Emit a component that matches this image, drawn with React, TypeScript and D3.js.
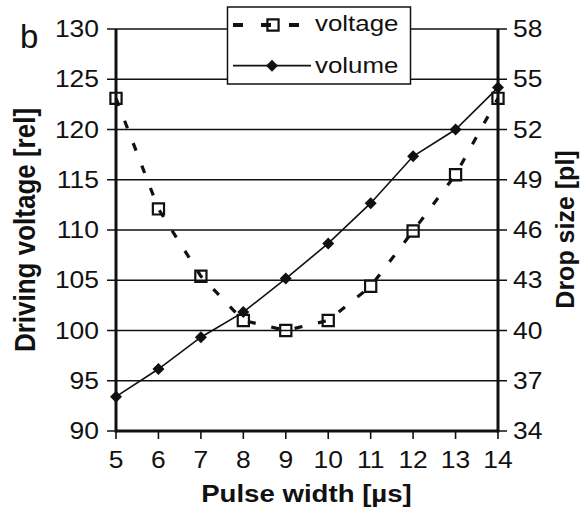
import React from "react";
import * as d3 from "d3";

// Pulse width in microseconds
const pulseWidth = [5, 6, 7, 8, 9, 10, 11, 12, 13, 14];
// Driving voltage (relative units), left axis
const voltage = [123.1, 112.1, 105.4, 101.0, 100.0, 101.0, 104.4, 109.9, 115.5, 123.1];
// Drop volume (pl), right axis
const volume = [36.05, 37.7, 39.6, 41.1, 43.1, 45.2, 47.6, 50.4, 52.0, 54.5];

const leftTicks = [90, 95, 100, 105, 110, 115, 120, 125, 130];
const rightTicks = [34, 37, 40, 43, 46, 49, 52, 55, 58];
const xTicks = [5, 6, 7, 8, 9, 10, 11, 12, 13, 14];

const W = 581;
const H = 511;
const FONT = "'Liberation Sans', Arial, Helvetica, sans-serif";
const SX = 1.15; // horizontal glyph stretch

export default function App() {
  const x = d3.scaleLinear().domain([5, 14]).range([116, 498]);
  const yL = d3.scaleLinear().domain([90, 130]).range([431, 29]);
  const yR = d3.scaleLinear().domain([34, 58]).range([431, 29]);

  const voltageLine = d3
    .line<number>()
    .x((_, i) => x(pulseWidth[i]))
    .y((v) => yL(v));
  const volumeLine = d3
    .line<number>()
    .x((_, i) => x(pulseWidth[i]))
    .y((v) => yR(v));

  const squarePath = d3.symbol(d3.symbolSquare, 125)() as string;
  const diamondPath = d3.symbol(d3.symbolSquare, 72)() as string;

  const [x0, x1] = x.range();
  const [yB, yT] = yL.range();

  const txt = (
    key: string | number,
    tx: number,
    ty: number,
    label: string,
    size: number,
    anchor: "start" | "middle" | "end",
    bold = false
  ) => (
    <text
      key={key}
      transform={`translate(${tx},${ty}) scale(${SX},1)`}
      textAnchor={anchor}
      fontFamily={FONT}
      fontSize={size}
      fontWeight={bold ? "bold" : "normal"}
      fill="#111"
    >
      {label}
    </text>
  );

  return (
    <svg
      width={W}
      height={H}
      style={{ position: "absolute", left: 0, top: 0, background: "#fff" }}
    >
      <rect width={W} height={H} fill="#fff" />

      {/* horizontal gridlines with tick stubs on both sides */}
      {leftTicks.map((t) => (
        <line
          key={"g" + t}
          x1={x0 - 9}
          x2={x1 + 9}
          y1={yL(t)}
          y2={yL(t)}
          stroke="#111"
          strokeWidth={1.6}
        />
      ))}

      {/* x tick marks */}
      {xTicks.map((t) => (
        <line
          key={"xt" + t}
          x1={x(t)}
          x2={x(t)}
          y1={yB}
          y2={yB + 8}
          stroke="#111"
          strokeWidth={1.6}
        />
      ))}

      {/* axis frame: left, right, bottom */}
      <line x1={x0} x2={x0} y1={yT} y2={yB + 1.5} stroke="#111" strokeWidth={3} />
      <line x1={x1} x2={x1} y1={yT} y2={yB + 1.5} stroke="#111" strokeWidth={3} />
      <line x1={x0} x2={x1} y1={yB} y2={yB} stroke="#111" strokeWidth={3} />

      {/* volume series */}
      <path d={volumeLine(volume) as string} fill="none" stroke="#111" strokeWidth={1.6} />
      {/* voltage series */}
      <path
        d={voltageLine(voltage) as string}
        fill="none"
        stroke="#111"
        strokeWidth={3.2}
        strokeDasharray="8,16"
      />

      {volume.map((v, i) => (
        <path
          key={"d" + i}
          d={diamondPath}
          transform={`translate(${x(pulseWidth[i])},${yR(v)}) rotate(45)`}
          fill="#111"
        />
      ))}
      {voltage.map((v, i) => (
        <path
          key={"s" + i}
          d={squarePath}
          transform={`translate(${x(pulseWidth[i])},${yL(v)})`}
          fill="none"
          stroke="#111"
          strokeWidth={2.2}
        />
      ))}

      {/* tick labels */}
      {leftTicks.map((t) => txt("lt" + t, 99, yL(t) + 8.2, String(t), 23, "end"))}
      {rightTicks.map((t) => txt("rt" + t, 513, yR(t) + 8.2, String(t), 23, "start"))}
      {xTicks.map((t) => txt("xl" + t, x(t), 468, String(t), 23, "middle"))}

      {/* axis titles */}
      {txt("xtitle", 306.5, 502, "Pulse width [\u00b5s]", 24, "middle", true)}
      <text
        transform={`translate(35,230) scale(1.1,1) rotate(-90)`}
        textAnchor="middle"
        fontFamily={FONT}
        fontSize={26}
        fontWeight="bold"
        fill="#111"
      >
        Driving voltage [rel]
      </text>
      <text
        transform={`translate(574,229.5) rotate(-90)`}
        textAnchor="middle"
        fontFamily={FONT}
        fontSize={25}
        fontWeight="bold"
        fill="#111"
      >
        Drop size [pl]
      </text>

      {/* panel letter */}
      <text x={20} y={48} fontFamily={FONT} fontSize={33} fill="#111">
        b
      </text>

      {/* legend */}
      <rect x={227.5} y={7} width={183} height={77} fill="#fff" stroke="#111" strokeWidth={1.5} />
      <line
        x1={233}
        x2={301}
        y1={25}
        y2={25}
        stroke="#111"
        strokeWidth={3.8}
        strokeDasharray="10,18"
      />
      <path
        d={squarePath}
        transform={`translate(273,25)`}
        fill="none"
        stroke="#111"
        strokeWidth={2.2}
      />
      <line x1={233} x2={311} y1={65.7} y2={65.7} stroke="#111" strokeWidth={1.8} />
      <path d={diamondPath} transform={`translate(272,65.7) rotate(45)`} fill="#111" />
      {txt("lg1", 315, 31, "voltage", 22.5, "start")}
      {txt("lg2", 315, 73, "volume", 22.5, "start")}
    </svg>
  );
}
